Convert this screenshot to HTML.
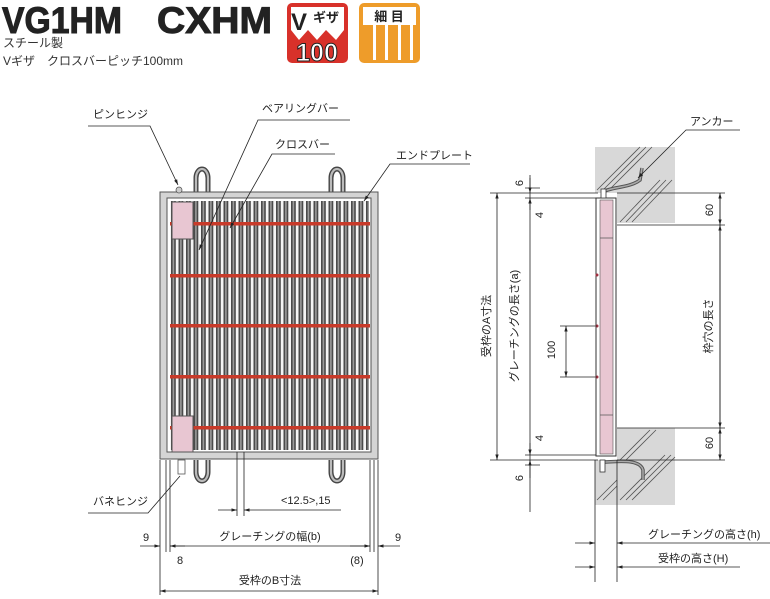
<!DOCTYPE html>
<html><head><meta charset="utf-8"><style>
html,body{margin:0;padding:0;background:#fff;}
svg{display:block;font-family:"Liberation Sans","Noto Sans CJK JP",sans-serif;}
</style></head><body>
<svg width="770" height="599" viewBox="0 0 770 599" xmlns="http://www.w3.org/2000/svg">
<defs>
<pattern id="bars" x="171" y="0" width="7.5" height="10" patternUnits="userSpaceOnUse">
<rect x="0" y="0" width="7.5" height="10" fill="#f4f4f4"/>
<rect x="0" y="0" width="4.8" height="10" fill="#4a4a4a"/>
<rect x="1.6" y="0" width="1.6" height="10" fill="#9a9a9a"/>
</pattern>
<marker id="a" viewBox="0 0 10 10" refX="10" refY="5" markerWidth="7" markerHeight="7" orient="auto-start-reverse"><path d="M0,2 L10,5 L0,8z" fill="#222"/></marker>
</defs>

<!-- Header -->
<text x="2" y="33" font-size="37" font-weight="bold" fill="#222" textLength="120" lengthAdjust="spacingAndGlyphs" stroke="#222" stroke-width="1">VG1HM</text>
<text x="157" y="33" font-size="37" font-weight="bold" fill="#222" textLength="115" lengthAdjust="spacingAndGlyphs" stroke="#222" stroke-width="1">CXHM</text>
<text x="3" y="47" font-size="12" fill="#333">スチール製</text>
<text x="3" y="65" font-size="12" fill="#333">Vギザ　クロスバーピッチ100mm</text>
<rect x="287" y="3" width="61" height="60" rx="5" fill="#d8312a"/>
<path d="M291,7 H344 V30 L336,40 L326,30 L317,40 L308,30 L299,40 L291,30z" fill="#fff"/>
<text x="291" y="30" font-size="24" font-weight="bold" fill="#222">V</text>
<text x="313" y="22" font-size="13" font-weight="bold" fill="#222">ギザ</text>
<text x="317" y="61" font-size="25" font-weight="bold" fill="#fff" text-anchor="middle" stroke="#222" stroke-width="1">100</text>
<rect x="359" y="3" width="61" height="60" rx="5" fill="#ee9c2a"/>
<rect x="363" y="7" width="53" height="18" fill="#fff"/>
<text x="389" y="21" font-size="13" font-weight="bold" fill="#222" text-anchor="middle">細 目</text>
<g fill="#fff"><rect x="373" y="25" width="3" height="35"/><rect x="385" y="25" width="3" height="35"/><rect x="398" y="25" width="3" height="35"/><rect x="410" y="25" width="3" height="35"/></g>

<!-- Left grating -->
<g fill="none" stroke="#444" stroke-width="5">
<path d="M196,193 V178 a6,9 0 0 1 12,0 V193"/>
<path d="M331,193 V178 a6,9 0 0 1 12,0 V193"/>
<path d="M196,460 V472 a6,9 0 0 0 12,0 V460"/>
<path d="M331,460 V472 a6,9 0 0 0 12,0 V460"/>
</g>
<g fill="none" stroke="#bbb" stroke-width="2.2">
<path d="M196,193 V178 a6,9 0 0 1 12,0 V193"/>
<path d="M331,193 V178 a6,9 0 0 1 12,0 V193"/>
<path d="M196,460 V472 a6,9 0 0 0 12,0 V460"/>
<path d="M331,460 V472 a6,9 0 0 0 12,0 V460"/>
</g>
<rect x="160" y="192" width="218" height="267" fill="#d4d4d4" stroke="#555" stroke-width="1"/>
<rect x="167" y="198" width="204" height="254" fill="#fff" stroke="#555" stroke-width="1"/>
<rect x="170" y="201" width="199" height="249" fill="url(#bars)"/>
<g fill="#c83a2a">
<rect x="170" y="222" width="200" height="3.5"/>
<rect x="170" y="274" width="200" height="3.5"/>
<rect x="170" y="324" width="200" height="3.5"/>
<rect x="170" y="375" width="200" height="3.5"/>
<rect x="170" y="426" width="200" height="3.5"/>
</g>
<rect x="172" y="202" width="21" height="37" fill="#e8c6d2" stroke="#555" stroke-width="1"/>
<rect x="172" y="416" width="21" height="36" fill="#e8c6d2" stroke="#555" stroke-width="1"/>
<circle cx="179" cy="190" r="3" fill="#ccc" stroke="#555" stroke-width="0.8"/>
<rect x="178" y="460" width="7" height="14" fill="#fff" stroke="#555" stroke-width="0.8"/>

<!-- Left labels -->
<g font-size="11" fill="#222">
<text x="93" y="118">ピンヒンジ</text>
<text x="262" y="112">ベアリングバー</text>
<text x="275" y="148">クロスバー</text>
<text x="396" y="159">エンドプレート</text>
<text x="93" y="505">バネヒンジ</text>
<text x="281" y="504">&lt;12.5&gt;,15</text>
<text x="270" y="540" text-anchor="middle">グレーチングの幅(b)</text>
<text x="146" y="541" text-anchor="middle">9</text>
<text x="398" y="541" text-anchor="middle">9</text>
<text x="180" y="564" text-anchor="middle">8</text>
<text x="357" y="564" text-anchor="middle">(8)</text>
<text x="270" y="584" text-anchor="middle">受枠のB寸法</text>
</g>
<g stroke="#222" stroke-width="0.8" fill="none">
<path d="M88,126 H150 L178,185" marker-end="url(#a)"/>
<path d="M350,120 H258 L199,250" marker-end="url(#a)"/>
<path d="M335,154 H272 L230,228" marker-end="url(#a)"/>
<path d="M470,164 H390 L364,201" marker-end="url(#a)"/>
<path d="M88,513 H148 L180,476"/>
<path d="M237,452 V516 M244,452 V516"/>
<path d="M218,510 H237" marker-end="url(#a)"/>
<path d="M341,510 H244" marker-end="url(#a)"/>
<path d="M160,460 V595 M166,460 V552 M170,460 V552 M370,460 V552 M374,460 V552 M378,460 V595"/>
<path d="M140,546 H160" marker-end="url(#a)"/>
<path d="M185,546 H170" marker-end="url(#a)"/>
<path d="M350,546 H370" marker-end="url(#a)"/>
<path d="M400,546 H378" marker-end="url(#a)"/>
<path d="M170,546 H370"/>
<path d="M160,591 H378" marker-start="url(#a)" marker-end="url(#a)"/>
</g>

<!-- Right section -->
<path d="M595,147 H675 V223 H617 V193 H595z" fill="#d8d8d8"/>
<path d="M617,428 H675 V505 H595 V460 H617z" fill="#d8d8d8"/>
<g stroke="#555" stroke-width="0.8" fill="none">
<path d="M597,190 L640,147 M603,190 L646,147 M609,190 L652,147"/>
<path d="M620,222 L660,180 M626,222 L666,180 M632,222 L672,180"/>
<path d="M620,500 L665,455 M626,500 L671,455 M632,500 L675,457"/>
<path d="M597,500 L617,480 M603,500 L617,486"/>
<path d="M620,460 L650,430 M626,460 L656,430"/>
</g>
<rect x="596" y="198" width="20" height="258" fill="#fff" stroke="#333" stroke-width="1"/>
<rect x="600" y="200" width="13" height="254" fill="#e8c6d2" stroke="#555" stroke-width="0.6"/>
<path d="M600,238 H613 M600,415 H613" stroke="#555" stroke-width="0.8"/>
<g fill="#a03040"><circle cx="597" cy="275" r="1.5"/><circle cx="597" cy="326" r="1.5"/><circle cx="597" cy="377" r="1.5"/></g>
<path d="M603,192 C610,187 630,188 640,180 L642,168" stroke="#555" stroke-width="3.5" fill="none"/>
<path d="M603,192 C610,187 630,188 640,180 L642,168" stroke="#aaa" stroke-width="1.5" fill="none"/>
<path d="M603,462 C615,462 640,458 643,470 L643,480" stroke="#555" stroke-width="3.5" fill="none"/>
<path d="M603,462 C615,462 640,458 643,470 L643,480" stroke="#aaa" stroke-width="1.5" fill="none"/>
<rect x="600" y="460" width="5" height="12" fill="#fff" stroke="#333" stroke-width="0.8"/>
<rect x="601" y="189" width="5" height="9" fill="#fff" stroke="#333" stroke-width="0.8"/>

<g stroke="#222" stroke-width="0.8" fill="none">
<path d="M490,193 H598 M617,193 H725 M617,225 H725 M490,460 H598 M617,460 H725 M617,428 H725"/>
<path d="M525,198 H596 M525,455 H596 M525,188 H540 M525,465 H540"/>
<path d="M497,193 V460" marker-start="url(#a)" marker-end="url(#a)"/>
<path d="M530,175 V512"/>
<path d="M530,178 V193" marker-end="url(#a)"/>
<path d="M530,210 V198" marker-end="url(#a)"/>
<path d="M530,443 V455" marker-end="url(#a)"/>
<path d="M530,478 V460" marker-end="url(#a)"/>
<path d="M560,326 H597 M560,377 H597"/>
<path d="M566,326 V377" marker-start="url(#a)" marker-end="url(#a)"/>
<path d="M720,193 V460"/>
<path d="M720,193 V225" marker-start="url(#a)" marker-end="url(#a)"/>
<path d="M720,225 V428" marker-start="url(#a)" marker-end="url(#a)"/>
<path d="M720,428 V460" marker-start="url(#a)" marker-end="url(#a)"/>
<path d="M595,460 V582 M617,460 V582"/>
<path d="M575,543 H595" marker-end="url(#a)"/>
<path d="M770,543 H617" marker-end="url(#a)"/>
<path d="M575,567 H595" marker-end="url(#a)"/>
<path d="M740,567 H617" marker-end="url(#a)"/>
<path d="M740,130 H686 L638,178" marker-end="url(#a)"/>
</g>
<g font-size="11" fill="#222">
<text x="690" y="125">アンカー</text>
<text x="648" y="538">グレーチングの高さ(h)</text>
<text x="658" y="562">受枠の高さ(H)</text>
<text transform="translate(523,183) rotate(-90)" text-anchor="middle">6</text>
<text transform="translate(543,215) rotate(-90)" text-anchor="middle">4</text>
<text transform="translate(543,438) rotate(-90)" text-anchor="middle">4</text>
<text transform="translate(523,478) rotate(-90)" text-anchor="middle">6</text>
<text transform="translate(555,350) rotate(-90)" text-anchor="middle">100</text>
<text transform="translate(713,210) rotate(-90)" text-anchor="middle">60</text>
<text transform="translate(713,443) rotate(-90)" text-anchor="middle">60</text>
<text transform="translate(490,326) rotate(-90)" text-anchor="middle">受枠のA寸法</text>
<text transform="translate(518,326) rotate(-90)" text-anchor="middle">グレーチングの長さ(a)</text>
<text transform="translate(712,326) rotate(-90)" text-anchor="middle">枠穴の長さ</text>
</g>
</svg>
</body></html>
